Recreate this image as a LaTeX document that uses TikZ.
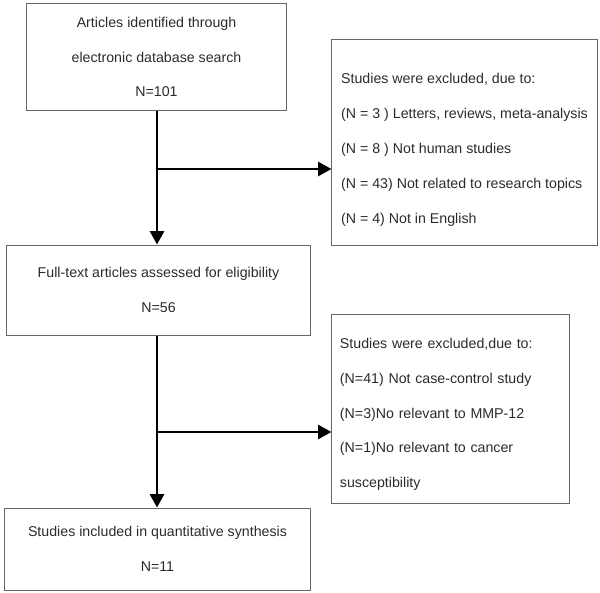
\documentclass[tikz,border=0pt]{standalone}
\usepackage{fontspec}
\setmainfont{Liberation Sans}
\usepackage{xcolor}
\usepackage{tikz}
\usetikzlibrary{arrows.meta}

\definecolor{txtgray}{HTML}{2B2B2B}
\definecolor{boxgray}{HTML}{666666}

\tikzset{
    flowbox/.style={draw=boxgray, line width=0.7pt, text=txtgray, align=center,
        font={\fontsize{10.1pt}{24.8pt}\selectfont}, inner sep=0pt},
    exclbox/.style={draw=boxgray, line width=0.7pt, text=txtgray, align=left,
        font={\fontsize{10.1pt}{24.8pt}\selectfont}, inner xsep=0.2cm, inner ysep=0pt},
    flowarrow/.style={line width=1.7pt, -{Triangle[length=9.5pt,width=10pt]}}
}

\begin{document}
\begin{tikzpicture}[x=0.025cm, y=-0.025cm]
        \useasboundingbox (0,0) rectangle (600,593);

        % 主流程框
        \node[flowbox, minimum width=6.475cm, minimum height=2.65cm] (ident) at (156.5,57)
            {Articles identified through\\electronic database search\\N=101};
        \node[flowbox, minimum width=7.575cm, minimum height=2.25cm] (full) at (158.5,290)
            {Full-text articles assessed for eligibility\\N=56};
        \node[flowbox, minimum width=7.625cm, minimum height=2.05cm] (incl) at (157.5,549)
            {Studies included in quantitative synthesis\\N=11};

        % 排除框
        \node[exclbox, minimum width=6.625cm, minimum height=5.125cm] (excl1) at (464.5,142.5)
            {\rule{0pt}{18pt}Studies were excluded, due to:\\(N = 3 ) Letters, reviews, meta-analysis\\(N = 8 ) Not human studies\\(N = 43) Not related to research topics\\(N = 4) Not in English};
        \node[exclbox, text width=5.525cm, minimum height=4.7cm] (excl2) at (450.5,409)
            {\rule{0pt}{15pt}Studies were excluded,due to:\\(N=41) Not case-control study\\(N=3)No relevant to MMP-12\\(N=1)No relevant to cancer\\susceptibility};

        % 分支点
        \coordinate (b1) at (157,169);
        \coordinate (b2) at (157,432);

        % 箭头
        \draw[flowarrow] (ident.south -| b1) -- (full.north -| b1);
        \draw[flowarrow] (b1) -- (b1 -| excl1.west);
        \draw[flowarrow] (full.south -| b2) -- (incl.north -| b2);
        \draw[flowarrow] (b2) -- (b2 -| excl2.west);

    \end{tikzpicture}
\end{document}
